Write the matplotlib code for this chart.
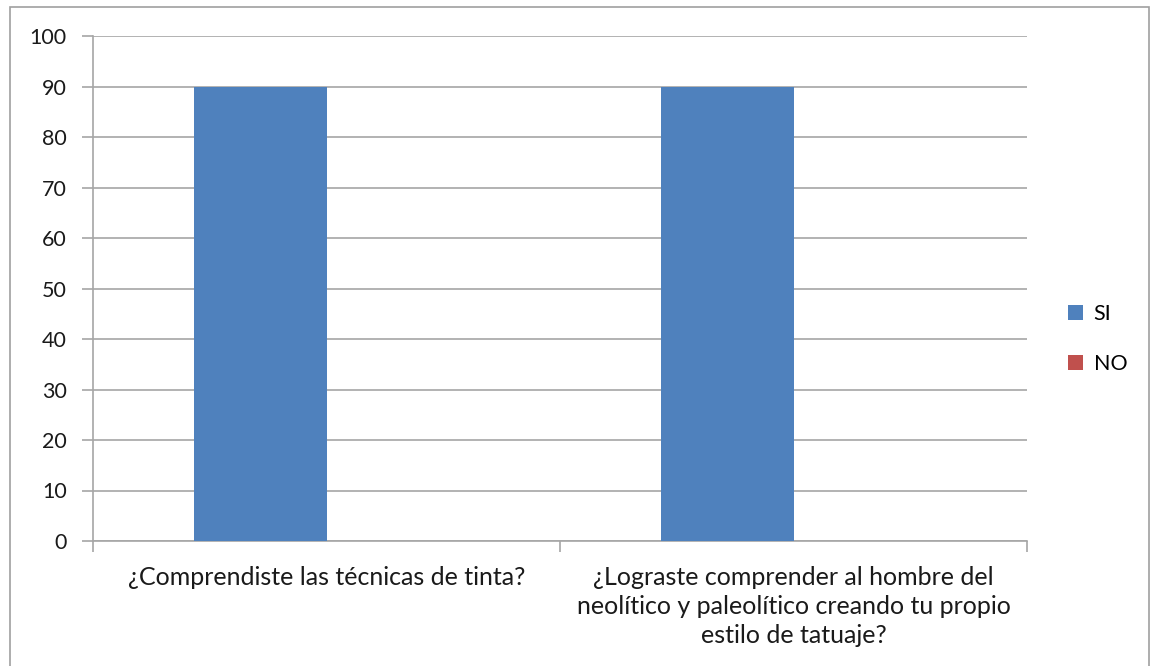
import matplotlib.pyplot as plt
import numpy as np
from matplotlib.patches import Rectangle

categories = [
    "¿Comprendiste las técnicas de tinta?",
    "¿Lograste comprender al hombre del\nneolítico y paleolítico creando tu propio\nestilo de tatuaje?",
]
si_values = [90, 90]
no_values = [0, 0]
y_ticks = [0, 10, 20, 30, 40, 50, 60, 70, 80, 90, 100]

plt.rcParams["font.family"] = ["Lato", "DejaVu Sans"]

W, H = 1153, 666
fig = plt.figure(figsize=(W / 100, H / 100), dpi=100)
fig.patch.set_facecolor("white")

# outer chart frame
fig.patches.append(Rectangle((10 / W, -0.1), 1139 / W, 1.1 - 7 / H,
                             transform=fig.transFigure, fill=False,
                             edgecolor="#a0a0a0", linewidth=1.2))

ax = fig.add_axes([93 / W, (H - 541) / H, 934 / W, 505 / H])

x = np.arange(len(categories))
bw = 133 / 467
grid_c = "#a6a6a6"

ax.bar(x - bw / 2, si_values, bw, color="#4f81bd", label="SI", zorder=3)
ax.bar(x + bw / 2, no_values, bw, color="#c0504d", label="NO", zorder=3)

ax.set_xlim(-0.5, len(categories) - 0.5)
ax.set_ylim(0, 100)
ax.set_yticks(y_ticks)
ax.yaxis.grid(True, color=grid_c, linewidth=1.2, zorder=0)
ax.tick_params(axis="y", length=8, width=1.2, color=grid_c,
               labelsize=15.5, labelcolor="#1a1a1a", pad=11)

ax.set_xticks(np.arange(len(categories) + 1) - 0.5, minor=False)
ax.set_xticklabels([])
ax.tick_params(axis="x", length=8, width=1.2, color=grid_c)
for xi, lab in zip(x, categories):
    ax.text(xi, -5.0, lab, ha="center", va="top", fontsize=18,
            color="#1a1a1a", linespacing=1.3, transform=ax.transData)

for s in ["top", "right"]:
    ax.spines[s].set_visible(False)
for s in ["left", "bottom"]:
    ax.spines[s].set_color(grid_c)
    ax.spines[s].set_linewidth(1.2)

ax.legend(loc="center left", bbox_to_anchor=(1.023, 0.4), frameon=False,
          fontsize=15.5, handlelength=0.7, handleheight=0.7,
          handletextpad=0.5, labelspacing=1.4)

fig.savefig("out.png", dpi=100)
